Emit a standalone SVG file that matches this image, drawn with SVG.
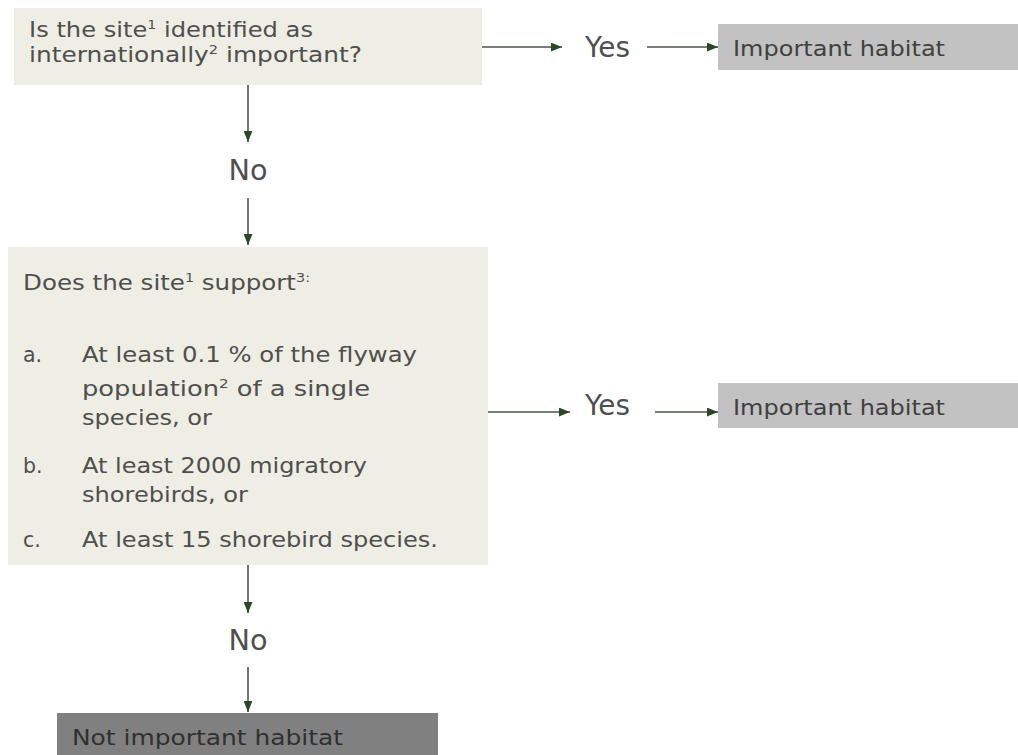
<svg xmlns="http://www.w3.org/2000/svg" width="1018" height="755" viewBox="0 0 1018 755">
<defs>
<marker id="ah" viewBox="0 0 10 8" refX="10" refY="4" markerWidth="11" markerHeight="9" markerUnits="userSpaceOnUse" orient="auto">
<path d="M0,0 L10,4 L0,8 Z" fill="#2b4628"/>
</marker>
</defs>
<style>
.q{fill:#eeeee5}
.lg{fill:#c2c2c2}
.dg{fill:#808080}
.t{font-family:"DejaVu Sans",sans-serif;font-size:20.5px;fill:#4f4f4f}
.big{font-family:"DejaVu Sans",sans-serif;font-size:28px;fill:#4f4f4f}
.sup{font-size:12px}
.c{stroke:#4a5548;stroke-width:1.6;fill:none;marker-end:url(#ah)}
</style>
<rect width="1018" height="755" fill="#ffffff"/>
<g id="q1">
<rect class="q" x="14" y="8" width="468" height="77"/>
<text class="t" x="29" y="37" textLength="284" lengthAdjust="spacingAndGlyphs">Is the site<tspan class="sup" dy="-8">1</tspan><tspan dy="8"> identified as</tspan></text>
<text class="t" x="29" y="62" textLength="333" lengthAdjust="spacingAndGlyphs">internationally<tspan class="sup" dy="-8">2</tspan><tspan dy="8"> important?</tspan></text>
</g>
<g id="yes1">
<text class="big" x="585" y="57" textLength="45" lengthAdjust="spacingAndGlyphs">Yes</text>
</g>
<g id="imp1">
<rect class="lg" x="718" y="24" width="300" height="46"/>
<text class="t" x="733" y="56" textLength="212" lengthAdjust="spacingAndGlyphs" style="fill:#404040">Important habitat</text>
</g>
<g id="no1">
<text class="big" x="248" y="180" text-anchor="middle" textLength="39" lengthAdjust="spacingAndGlyphs">No</text>
</g>
<g id="q2">
<rect class="q" x="8" y="247" width="480" height="318"/>
<text class="t" x="23" y="290" textLength="287" lengthAdjust="spacingAndGlyphs">Does the site<tspan class="sup" dy="-8">1</tspan><tspan dy="8"> support</tspan><tspan class="sup" dy="-8">3:</tspan></text>
<text class="t" x="23" y="362">a.</text>
<text class="t" x="82" y="362" textLength="335" lengthAdjust="spacingAndGlyphs">At least 0.1 % of the flyway</text>
<text class="t" x="82" y="396" textLength="288" lengthAdjust="spacingAndGlyphs">population<tspan class="sup" dy="-8">2</tspan><tspan dy="8"> of a single</tspan></text>
<text class="t" x="82" y="425" textLength="130" lengthAdjust="spacingAndGlyphs">species, or</text>
<text class="t" x="23" y="473">b.</text>
<text class="t" x="82" y="473" textLength="285" lengthAdjust="spacingAndGlyphs">At least 2000 migratory</text>
<text class="t" x="82" y="502" textLength="166" lengthAdjust="spacingAndGlyphs">shorebirds, or</text>
<text class="t" x="23" y="547">c.</text>
<text class="t" x="82" y="547" textLength="356" lengthAdjust="spacingAndGlyphs">At least 15 shorebird species.</text>
</g>
<g id="yes2">
<text class="big" x="585" y="415" textLength="45" lengthAdjust="spacingAndGlyphs">Yes</text>
</g>
<g id="imp2">
<rect class="lg" x="718" y="383" width="300" height="45"/>
<text class="t" x="733" y="415" textLength="212" lengthAdjust="spacingAndGlyphs" style="fill:#404040">Important habitat</text>
</g>
<g id="no2">
<text class="big" x="248" y="650" text-anchor="middle" textLength="39" lengthAdjust="spacingAndGlyphs">No</text>
</g>
<g id="notimp">
<rect class="dg" x="57" y="713" width="381" height="42"/>
<text class="t" x="72" y="745" textLength="271" lengthAdjust="spacingAndGlyphs" style="fill:#303030">Not important habitat</text>
</g>
<g id="connectors">
<path class="c" d="M482,47 L562,47"/>
<path class="c" d="M647,47 L718,47"/>
<path class="c" d="M248,85 L248,142"/>
<path class="c" d="M248,198 L248,245"/>
<path class="c" d="M488,412 L570,412"/>
<path class="c" d="M655,412 L718,412"/>
<path class="c" d="M248,565 L248,613"/>
<path class="c" d="M248,667 L248,712"/>
</g>
</svg>
